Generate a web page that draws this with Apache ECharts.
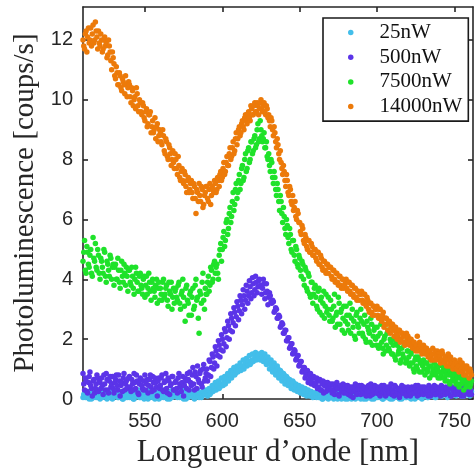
<!DOCTYPE html>
<html>
<head>
<meta charset="utf-8">
<script src="https://cdn.jsdelivr.net/npm/echarts@6/dist/echarts.min.js"></script>
<style>
html,body{margin:0;padding:0;background:#fff;}
#chart{width:475px;height:475px;}
</style>
</head>
<body>
<div id="chart"></div>
<script>
const seriesNames = ['25nW', '500nW', '7500nW', '14000nW'];
const xTickValues = [550, 600, 650, 700, 750];
const yTickValues = [0, 2, 4, 6, 8, 10, 12];

const wavelengths = [
510,511,512,513,514,515,516,517,518,519,
520,521,522,523,524,525,526,527,528,529,
530,531,532,533,534,535,536,537,538,539,
540,541,542,543,544,545,546,547,548,549,
550,551,552,553,554,555,556,557,558,559,
560,561,562,563,564,565,566,567,568,569,
570,571,572,573,574,575,576,577,578,579,
580,581,582,583,584,585,586,587,588,589,
590,591,592,593,594,595,596,597,598,599,
600,601,602,603,604,605,606,607,608,609,
610,611,612,613,614,615,616,617,618,619,
620,621,622,623,624,625,626,627,628,629,
630,631,632,633,634,635,636,637,638,639,
640,641,642,643,644,645,646,647,648,649,
650,651,652,653,654,655,656,657,658,659,
660,661,662,663,664,665,666,667,668,669,
670,671,672,673,674,675,676,677,678,679,
680,681,682,683,684,685,686,687,688,689,
690,691,692,693,694,695,696,697,698,699,
700,701,702,703,704,705,706,707,708,709,
710,711,712,713,714,715,716,717,718,719,
720,721,722,723,724,725,726,727,728,729,
730,731,732,733,734,735,736,737,738,739,
740,741,742,743,744,745,746,747,748,749,
750,751,752,753,754,755,756,757,758,759,
760,761
];

const wavelengthsHalf = [
510.5,511.5,512.5,513.5,514.5,515.5,516.5,517.5,518.5,519.5,
520.5,521.5,522.5,523.5,524.5,525.5,526.5,527.5,528.5,529.5,
530.5,531.5,532.5,533.5,534.5,535.5,536.5,537.5,538.5,539.5,
540.5,541.5,542.5,543.5,544.5,545.5,546.5,547.5,548.5,549.5,
550.5,551.5,552.5,553.5,554.5,555.5,556.5,557.5,558.5,559.5,
560.5,561.5,562.5,563.5,564.5,565.5,566.5,567.5,568.5,569.5,
570.5,571.5,572.5,573.5,574.5,575.5,576.5,577.5,578.5,579.5,
580.5,581.5,582.5,583.5,584.5,585.5,586.5,587.5,588.5,589.5,
590.5,591.5,592.5,593.5,594.5,595.5,596.5,597.5,598.5,599.5,
600.5,601.5,602.5,603.5,604.5,605.5,606.5,607.5,608.5,609.5,
610.5,611.5,612.5,613.5,614.5,615.5,616.5,617.5,618.5,619.5,
620.5,621.5,622.5,623.5,624.5,625.5,626.5,627.5,628.5,629.5,
630.5,631.5,632.5,633.5,634.5,635.5,636.5,637.5,638.5,639.5,
640.5,641.5,642.5,643.5,644.5,645.5,646.5,647.5,648.5,649.5,
650.5,651.5,652.5,653.5,654.5,655.5,656.5,657.5,658.5,659.5,
660.5,661.5,662.5,663.5,664.5,665.5,666.5,667.5,668.5,669.5,
670.5,671.5,672.5,673.5,674.5,675.5,676.5,677.5,678.5,679.5,
680.5,681.5,682.5,683.5,684.5,685.5,686.5,687.5,688.5,689.5,
690.5,691.5,692.5,693.5,694.5,695.5,696.5,697.5,698.5,699.5,
700.5,701.5,702.5,703.5,704.5,705.5,706.5,707.5,708.5,709.5,
710.5,711.5,712.5,713.5,714.5,715.5,716.5,717.5,718.5,719.5,
720.5,721.5,722.5,723.5,724.5,725.5,726.5,727.5,728.5,729.5,
730.5,731.5,732.5,733.5,734.5,735.5,736.5,737.5,738.5,739.5,
740.5,741.5,742.5,743.5,744.5,745.5,746.5,747.5,748.5,749.5,
750.5,751.5,752.5,753.5,754.5,755.5,756.5,757.5,758.5,759.5,
760.5
];

const pl25nW = [
0.05,0.2,0.1,0.25,0.0,0.15,0.3,0.05,0.2,0.1,
0.25,0.0,0.15,0.3,0.1,0.2,0.05,0.25,0.15,0.0,
0.2,0.1,0.3,0.05,0.15,0.25,0.0,0.2,0.1,0.3,
0.05,0.25,0.15,0.0,0.2,0.1,0.3,0.05,0.15,0.25,
0.1,0.2,0.0,0.3,0.15,0.05,0.25,0.1,0.2,0.0,
0.15,0.3,0.05,0.2,0.1,0.25,0.0,0.15,0.3,0.1,
0.2,0.05,0.25,0.1,0.3,0.0,0.15,0.2,0.05,0.25,
0.1,0.2,0.0,0.15,0.3,0.05,0.2,0.1,0.25,0.15,
0.2,0.3,0.15,0.35,0.25,0.4,0.3,0.45,0.35,0.5,
0.45,0.6,0.5,0.7,0.6,0.8,0.7,0.9,0.8,0.95,
0.9,1.05,0.95,1.1,1.0,1.2,1.1,1.25,1.15,1.3,
1.25,1.4,1.3,1.45,1.35,1.5,1.4,1.35,1.3,1.25,
1.25,1.15,1.2,1.05,1.1,0.95,1.0,0.85,0.9,0.75,
0.8,0.65,0.7,0.55,0.6,0.5,0.55,0.4,0.45,0.35,
0.4,0.3,0.35,0.25,0.3,0.2,0.25,0.15,0.2,0.1,
0.2,0.05,0.15,0.1,0.2,0.0,0.15,0.05,0.1,0.2,
0.05,0.15,0.0,0.1,0.2,0.05,0.15,0.0,0.1,0.2,
0.1,0.0,0.15,0.05,0.2,0.1,0.0,0.15,0.05,0.1,
0.2,0.05,0.1,0.0,0.15,0.1,0.2,0.05,0.0,0.15,
0.1,0.2,0.05,0.15,0.0,0.1,0.2,0.05,0.15,0.1,
0.0,0.15,0.1,0.2,0.05,0.15,0.0,0.1,0.2,0.05,
0.15,0.1,0.0,0.2,0.1,0.05,0.15,0.2,0.1,0.0,
0.2,0.1,0.15,0.05,0.25,0.1,0.2,0.15,0.05,0.2,
0.15,0.25,0.1,0.2,0.3,0.15,0.25,0.1,0.2,0.3,
0.2,0.1,0.25,0.15,0.3,0.2,0.1,0.25,0.15,0.2,
0.1,0.25
];
const pl25nWHalf = [
0.15,0.05,0.25,0.1,0.2,0.0,0.15,0.25,0.05,0.3,
0.1,0.2,0.05,0.15,0.25,0.0,0.1,0.2,0.3,0.05,
0.15,0.25,0.05,0.2,0.1,0.0,0.25,0.15,0.05,0.2,
0.3,0.1,0.0,0.25,0.15,0.2,0.05,0.25,0.1,0.0,
0.25,0.15,0.05,0.2,0.3,0.1,0.0,0.2,0.15,0.25,
0.05,0.2,0.1,0.3,0.0,0.15,0.25,0.05,0.2,0.1,
0.15,0.3,0.05,0.2,0.1,0.25,0.0,0.3,0.15,0.1,
0.25,0.05,0.15,0.3,0.1,0.2,0.05,0.25,0.15,0.3,
0.1,0.35,0.2,0.45,0.3,0.55,0.35,0.6,0.4,0.7,
0.45,0.75,0.6,0.85,0.7,0.95,0.8,1.05,0.85,1.1,
0.95,1.2,1.0,1.3,1.1,1.35,1.15,1.45,1.2,1.5,
1.3,1.55,1.35,1.5,1.3,1.55,1.25,1.5,1.15,1.4,
1.0,1.3,0.9,1.2,0.8,1.1,0.7,0.95,0.6,0.85,
0.5,0.75,0.45,0.65,0.35,0.6,0.3,0.5,0.25,0.45,
0.2,0.4,0.15,0.35,0.1,0.3,0.1,0.25,0.05,0.2,
0.1,0.25,0.05,0.15,0.0,0.2,0.1,0.15,0.0,0.1,
0.2,0.1,0.05,0.15,0.0,0.2,0.1,0.05,0.15,0.0,
0.05,0.15,0.1,0.0,0.2,0.05,0.15,0.1,0.2,0.0,
0.1,0.0,0.15,0.2,0.05,0.1,0.0,0.15,0.1,0.2,
0.05,0.15,0.1,0.0,0.2,0.15,0.05,0.1,0.0,0.2,
0.1,0.05,0.2,0.1,0.0,0.15,0.1,0.2,0.05,0.15,
0.05,0.2,0.1,0.15,0.0,0.2,0.1,0.05,0.15,0.25,
0.1,0.25,0.05,0.2,0.15,0.1,0.25,0.05,0.2,0.15,
0.2,0.1,0.3,0.15,0.25,0.05,0.2,0.3,0.15,0.25,
0.3,0.15,0.2,0.35,0.1,0.25,0.2,0.15,0.3,0.2,
0.15
];

const pl500nW = [
0.85,0.3,0.6,0.2,0.75,0.45,0.1,0.65,0.35,0.8,
0.25,0.55,0.7,0.15,0.5,0.85,0.3,0.6,0.4,0.75,
0.2,0.65,0.45,0.8,0.1,0.55,0.7,0.3,0.6,0.4,
0.75,0.25,0.5,0.85,0.35,0.6,0.15,0.7,0.45,0.3,
0.8,0.5,0.2,0.65,0.4,0.75,0.3,0.55,0.1,0.7,
0.45,0.8,0.25,0.6,0.35,0.7,0.15,0.5,0.75,0.3,
0.6,0.2,0.85,0.4,0.55,0.1,0.7,0.35,0.65,0.9,
0.45,1.05,0.3,0.75,1.1,0.55,0.95,0.4,1.15,0.7,
1.0,0.8,1.25,1.05,1.4,1.2,1.6,1.45,1.8,1.65,
2.0,1.85,2.25,2.05,2.45,2.3,2.7,2.55,2.9,2.75,
3.1,2.95,3.3,3.15,3.45,3.3,3.6,3.45,3.75,3.55,
3.85,3.65,3.9,3.75,4.0,3.8,3.7,3.85,3.55,3.6,
3.4,3.45,3.2,3.25,2.95,3.0,2.7,2.75,2.45,2.5,
2.2,2.3,1.95,2.05,1.75,1.85,1.55,1.6,1.35,1.45,
1.15,1.25,0.95,1.05,0.8,0.95,0.65,0.85,0.55,0.75,
0.5,0.7,0.4,0.65,0.3,0.6,0.45,0.25,0.55,0.35,
0.5,0.2,0.45,0.3,0.55,0.15,0.4,0.25,0.5,0.35,
0.2,0.45,0.3,0.1,0.4,0.25,0.5,0.15,0.35,0.3,
0.45,0.2,0.35,0.1,0.4,0.25,0.5,0.15,0.3,0.4,
0.2,0.35,0.1,0.45,0.25,0.3,0.15,0.4,0.2,0.5,
0.3,0.1,0.4,0.25,0.35,0.15,0.45,0.2,0.3,0.1,
0.4,0.25,0.15,0.35,0.2,0.45,0.1,0.3,0.25,0.4,
0.15,0.35,0.25,0.1,0.4,0.2,0.3,0.45,0.15,0.35,
0.25,0.1,0.4,0.3,0.15,0.35,0.2,0.45,0.1,0.3,
0.35,0.2,0.4,0.15,0.3,0.25,0.1,0.35,0.2,0.3,
0.25,0.15
];
const pl500nWHalf = [
0.5,0.7,0.25,0.55,0.9,0.35,0.6,0.2,0.5,0.7,
0.6,0.35,0.45,0.8,0.3,0.65,0.2,0.75,0.5,0.35,
0.55,0.8,0.3,0.6,0.45,0.25,0.85,0.5,0.35,0.7,
0.4,0.65,0.3,0.55,0.8,0.2,0.5,0.65,0.35,0.6,
0.3,0.65,0.45,0.8,0.25,0.55,0.7,0.4,0.6,0.35,
0.7,0.3,0.55,0.85,0.2,0.6,0.45,0.75,0.3,0.55,
0.35,0.7,0.5,0.25,0.75,0.45,0.6,0.85,0.3,0.55,
0.8,0.5,0.9,0.35,0.65,0.85,0.5,1.0,0.6,0.85,
0.6,1.3,0.75,1.5,1.0,1.75,1.1,1.95,1.4,2.15,
1.6,2.35,1.75,2.6,2.0,2.85,2.25,3.05,2.45,3.25,
2.65,3.45,2.85,3.65,3.0,3.8,3.2,3.95,3.35,4.05,
3.45,4.1,3.55,3.95,3.75,3.5,4.0,3.35,3.85,3.15,
3.55,3.25,3.3,2.9,3.05,2.7,2.8,2.4,2.55,2.2,
2.3,1.95,2.05,1.7,1.85,1.5,1.65,1.3,1.45,1.1,
1.25,0.9,1.05,0.7,0.9,0.55,0.8,0.5,0.7,0.45,
0.55,0.35,0.6,0.3,0.5,0.2,0.55,0.4,0.3,0.45,
0.3,0.5,0.15,0.4,0.35,0.1,0.45,0.3,0.2,0.45,
0.35,0.15,0.4,0.25,0.05,0.4,0.2,0.35,0.45,0.15,
0.3,0.4,0.15,0.3,0.45,0.1,0.35,0.25,0.45,0.2,
0.4,0.15,0.3,0.2,0.45,0.1,0.35,0.25,0.4,0.15,
0.2,0.45,0.15,0.35,0.05,0.3,0.25,0.4,0.15,0.35,
0.3,0.1,0.4,0.2,0.35,0.25,0.45,0.15,0.35,0.2,
0.4,0.2,0.3,0.45,0.1,0.35,0.25,0.15,0.4,0.2,
0.35,0.45,0.15,0.25,0.4,0.2,0.35,0.1,0.4,0.25,
0.15,0.4,0.25,0.35,0.1,0.45,0.2,0.3,0.4,0.15,
0.3
];

const pl7500nW = [
4.6,5.3,4.2,4.9,4.4,5.0,4.1,4.7,5.2,4.3,
4.8,4.0,4.6,4.2,4.9,3.9,4.5,4.1,4.7,4.4,
3.8,4.5,4.0,4.3,3.7,4.6,3.9,4.2,4.4,3.6,
4.3,3.8,4.1,3.5,4.4,3.9,3.6,4.2,3.7,4.0,
3.4,4.1,3.7,3.9,3.3,4.0,3.6,3.8,3.2,3.9,
3.7,3.3,4.0,3.5,3.8,3.1,3.6,3.9,3.4,3.2,
3.7,3.3,3.9,3.0,3.6,3.4,2.6,3.8,3.2,3.5,
2.8,3.7,3.1,4.0,3.4,2.2,3.5,3.9,3.3,3.7,
3.5,4.1,3.8,4.3,4.0,4.6,4.4,4.2,4.8,5.2,
5.0,5.6,5.3,6.0,5.7,6.4,6.1,6.9,6.5,7.2,
6.9,7.5,7.2,7.8,7.4,8.2,7.7,8.4,8.0,8.6,
8.3,8.8,8.5,9.2,8.7,9.0,8.6,8.9,8.4,8.1,
8.2,7.6,7.9,7.2,7.4,6.8,7.0,6.3,6.6,5.9,
6.1,5.5,5.8,5.2,5.5,4.9,5.3,4.6,5.0,4.4,
4.7,4.1,4.5,3.8,4.3,3.6,4.1,3.4,3.9,3.5,
3.8,3.1,3.6,2.9,3.4,3.2,2.7,3.5,3.0,2.8,
3.3,2.6,3.1,2.4,2.9,3.4,2.5,3.0,2.7,2.2,
3.1,2.5,2.8,2.2,3.0,2.6,2.0,2.9,2.4,2.7,
2.6,2.1,2.8,1.9,2.4,2.2,2.7,1.8,2.3,2.0,
2.4,1.7,2.2,1.9,1.5,2.1,1.8,2.3,1.6,1.9,
1.5,2.0,1.3,1.8,1.6,1.2,1.7,1.4,1.9,1.3,
1.6,1.1,1.5,1.2,0.9,1.4,1.0,1.3,1.2,0.9,
1.3,0.8,1.2,1.0,0.7,1.1,0.9,1.2,0.8,1.0,
1.1,0.7,0.9,1.0,0.6,0.8,1.0,0.5,0.8,0.7,
0.9,0.5,0.7,0.4,0.8,0.6,0.3,0.7,0.5,0.6,
0.4,0.6
];
const pl7500nWHalf = [
4.9,4.3,5.1,4.5,4.8,4.2,5.4,4.6,4.4,5.0,
4.2,4.7,4.4,5.0,4.1,4.6,4.3,4.8,4.0,4.5,
4.4,4.0,4.7,3.9,4.3,4.1,4.5,3.8,4.1,4.3,
3.9,4.4,3.7,4.0,4.2,3.6,4.1,3.8,3.5,4.1,
3.8,3.5,4.2,3.6,3.9,3.7,3.4,4.0,3.7,3.3,
3.5,3.9,3.4,3.7,3.3,3.9,3.5,3.0,3.7,3.6,
3.4,3.8,3.2,3.5,4.0,3.1,3.7,3.3,2.8,3.6,
3.4,3.0,3.8,3.3,2.7,3.6,3.2,4.2,3.0,3.5,
3.9,3.6,4.4,3.9,4.5,4.2,4.5,4.0,5.0,4.6,
5.4,5.1,5.9,5.5,6.2,5.9,6.6,6.3,7.0,6.7,
7.3,7.0,7.7,7.3,8.0,7.6,8.3,7.9,8.6,8.2,
8.7,8.4,9.0,8.6,9.3,8.8,8.7,8.4,8.6,8.0,
7.8,8.0,7.4,7.6,7.0,7.2,6.6,6.8,6.2,6.4,
5.7,6.0,5.4,5.7,5.0,5.3,4.8,5.1,4.5,4.8,
4.3,4.6,4.0,4.4,3.7,4.2,3.5,3.9,3.2,3.7,
3.4,3.0,3.7,3.3,2.8,3.6,3.1,2.9,3.4,2.6,
3.0,2.7,3.5,2.8,2.5,3.2,2.9,2.3,3.1,2.6,
2.8,2.3,3.2,2.7,2.4,2.1,2.8,2.5,2.2,3.0,
2.2,2.5,2.0,2.6,2.3,1.9,2.5,2.1,2.4,1.8,
2.1,1.8,2.5,1.7,2.0,1.6,2.2,1.7,2.0,1.5,
1.8,1.4,1.9,1.5,1.7,1.3,1.5,1.8,1.2,1.6,
1.4,1.2,1.6,1.0,1.3,1.1,1.4,0.9,1.2,1.1,
1.0,1.2,0.9,1.1,1.3,0.8,1.0,0.9,1.1,0.7,
0.9,0.8,1.1,0.7,0.9,0.6,0.8,0.9,0.6,0.8,
0.6,0.8,0.5,0.7,0.5,0.7,0.6,0.4,0.6,0.5,
0.5
];

const pl14000nW = [
12.0,11.7,12.3,12.1,11.9,12.4,12.2,11.9,12.6,12.1,
12.3,11.8,12.0,11.7,12.1,11.9,11.5,11.8,11.3,11.6,
11.2,10.7,10.9,10.5,10.8,10.3,10.6,10.2,10.5,10.4,
10.5,9.9,10.3,10.0,9.7,10.2,9.6,9.9,9.5,9.8,
9.3,9.7,9.2,9.5,8.9,9.3,9.0,8.7,9.2,8.8,
8.9,8.5,8.8,8.2,8.6,8.0,8.4,7.8,8.3,7.7,
8.0,7.5,7.8,7.3,7.7,7.2,7.5,6.9,7.4,7.0,
7.3,6.7,7.1,6.2,6.9,7.2,6.6,7.0,6.5,6.9,
7.1,6.6,7.2,6.8,7.0,7.3,6.9,7.4,7.1,7.6,
7.4,7.9,7.6,8.1,7.8,8.4,8.1,8.6,8.3,8.9,
8.7,9.1,8.9,9.3,9.0,9.5,9.2,9.6,9.3,9.7,
9.5,9.9,9.6,9.8,9.7,10.0,9.6,9.9,9.5,9.7,
9.5,9.1,9.3,8.8,8.9,8.4,8.5,8.0,7.9,7.5,
7.6,7.1,7.3,6.8,7.0,6.5,6.3,6.6,6.0,6.2,
5.9,5.5,5.7,5.2,5.4,5.0,5.3,4.9,5.1,4.8,
5.0,4.6,4.9,4.5,4.7,4.3,4.6,4.2,4.5,4.4,
4.4,4.0,4.3,3.9,4.2,3.8,4.1,3.7,4.0,3.8,
4.0,3.6,3.9,3.5,3.8,3.4,3.7,3.3,3.6,3.5,
3.6,3.2,3.5,3.1,3.3,2.9,3.2,2.8,3.1,3.0,
3.1,2.7,3.0,2.6,2.9,2.5,2.7,2.3,2.6,2.4,
2.5,2.1,2.4,2.0,2.3,1.9,2.2,2.1,1.8,2.2,
2.1,1.8,2.0,1.7,1.9,1.6,2.1,1.7,1.8,1.5,
1.8,1.5,1.7,1.4,1.6,1.3,1.7,1.5,1.4,1.6,
1.5,1.2,1.6,1.3,1.4,1.1,1.5,1.2,1.3,1.0,
1.3,1.0,1.2,0.9,1.1,1.2,0.8,1.0,1.1,0.9,
1.0,0.8
];
const pl14000nWHalf = [
11.8,12.2,11.6,12.4,12.0,11.8,12.5,12.0,12.3,11.7,
11.9,12.2,11.6,12.0,11.8,11.4,12.0,11.6,11.0,11.4,
10.8,11.1,10.5,10.9,10.4,10.7,10.5,10.8,10.1,10.6,
10.1,10.4,9.8,10.1,10.4,9.8,10.0,9.6,9.9,9.4,
9.6,9.1,9.5,9.6,9.1,8.9,9.4,9.1,8.6,9.0,
8.6,9.0,8.3,8.7,8.1,8.5,8.2,8.0,7.9,8.2,
7.7,8.1,7.4,7.6,7.3,7.6,7.1,7.3,6.9,7.2,
6.9,7.2,6.7,7.0,6.6,6.8,7.1,6.4,6.8,7.1,
6.7,7.0,6.5,7.1,6.9,7.2,7.0,7.3,7.5,7.3,
7.7,7.5,7.9,7.8,8.2,8.0,8.4,8.2,8.7,8.5,
9.0,8.8,9.2,9.1,9.4,9.3,9.5,9.4,9.8,9.5,
9.8,9.6,9.9,9.5,9.9,9.7,9.8,9.6,9.8,9.4,
9.3,9.4,9.0,9.1,8.6,8.7,8.2,8.3,7.7,7.8,
7.3,7.5,6.9,7.1,6.6,6.8,6.4,6.1,6.3,5.9,
5.6,5.8,5.3,5.5,5.1,5.3,4.9,5.2,4.8,5.0,
4.7,4.9,4.5,4.8,4.4,4.6,4.3,4.5,4.2,4.4,
4.1,4.3,4.0,4.2,3.9,4.1,3.8,4.0,3.7,3.9,
3.7,3.9,3.6,3.8,3.5,3.7,3.4,3.6,3.3,3.5,
3.3,3.5,3.2,3.4,3.0,3.2,2.9,3.1,2.8,3.0,
2.8,3.0,2.7,2.8,2.4,2.7,2.5,2.6,2.2,2.5,
2.3,2.4,2.2,2.1,2.3,2.0,2.2,1.9,2.1,2.0,
1.9,2.0,1.8,1.9,1.7,1.8,1.6,1.9,1.6,1.7,
1.6,1.7,1.5,1.6,1.4,1.5,1.3,1.6,1.3,1.5,
1.4,1.3,1.5,1.2,1.4,1.3,1.1,1.4,1.2,1.1,
1.2,1.0,1.1,1.3,1.0,0.9,1.1,0.8,1.0,0.7,
0.9
];

const seriesValues = [pl25nW, pl500nW, pl7500nW, pl14000nW];
const seriesValuesHalf = [pl25nWHalf, pl500nWHalf, pl7500nWHalf, pl14000nWHalf];
const seriesColors = ['#43beea', '#5b34e8', '#1fe22a', '#ec7a0a'];

const axisColor = '#262626';
const lineStyle = { color: axisColor, width: 1.6 };

function pairs(values, valuesHalf) {
  const out = [];
  wavelengths.forEach((w, i) => {
    out.push([w, values[i]]);
    if (i < wavelengthsHalf.length) out.push([wavelengthsHalf[i], valuesHalf[i]]);
  });
  return out;
}

const chart = echarts.init(document.getElementById('chart'), null, { renderer: 'canvas' });

const xBase = {
  type: 'value', min: 510, max: 762,
  splitLine: { show: false },
  axisLine: { show: true, onZero: false, lineStyle: lineStyle },
  axisTick: { show: true, inside: true, length: 5, customValues: xTickValues, lineStyle: lineStyle }
};
const yBase = {
  type: 'value', min: 0, max: 13.1,
  splitLine: { show: false },
  axisLine: { show: true, onZero: false, lineStyle: lineStyle },
  axisTick: { show: true, inside: true, length: 5, customValues: yTickValues, lineStyle: lineStyle }
};

const option = {
  animation: false,
  backgroundColor: '#ffffff',
  grid: { left: 83, right: 2, top: 7, bottom: 76, containLabel: false },
  legend: {
    data: seriesNames,
    orient: 'vertical',
    left: 323, top: 18,
    icon: 'circle',
    itemWidth: 5.5, itemHeight: 5.5,
    itemGap: 3.7,
    padding: [4, 6, 4, 25],
    backgroundColor: '#ffffff',
    borderColor: '#1a1a1a',
    borderWidth: 1.6,
    textStyle: { fontFamily: 'Liberation Serif', fontSize: 21, color: '#111', lineHeight: 21, padding: [0, 0, 0, 21] }
  },
  xAxis: [
    Object.assign({}, xBase, {
      position: 'bottom',
      axisLabel: { customValues: xTickValues, fontFamily: 'Liberation Sans', fontSize: 20, color: axisColor, margin: 12 },
      name: 'Longueur d\u2019onde [nm]',
      nameLocation: 'middle',
      nameGap: 38,
      nameTextStyle: { fontFamily: 'Liberation Serif', fontSize: 31, color: axisColor }
    }),
    Object.assign({}, xBase, { position: 'top', axisLabel: { show: false } })
  ],
  yAxis: [
    Object.assign({}, yBase, {
      position: 'left',
      axisLabel: { customValues: yTickValues, fontFamily: 'Liberation Sans', fontSize: 20, color: axisColor, margin: 10 },
      name: 'Photoluminescence [coups/s]',
      nameLocation: 'middle',
      nameGap: 41,
      nameTextStyle: { fontFamily: 'Liberation Serif', fontSize: 29, color: axisColor }
    }),
    Object.assign({}, yBase, { position: 'right', axisLabel: { show: false } })
  ],
  series: seriesNames.map((name, k) => ({
    name: name,
    type: 'scatter',
    xAxisIndex: 0,
    yAxisIndex: 0,
    symbol: 'circle',
    symbolSize: 5.5,
    itemStyle: { color: seriesColors[k], opacity: 1 },
    emphasis: { disabled: true },
    data: pairs(seriesValues[k], seriesValuesHalf[k])
  }))
};

chart.setOption(option);
</script>
</body>
</html>
